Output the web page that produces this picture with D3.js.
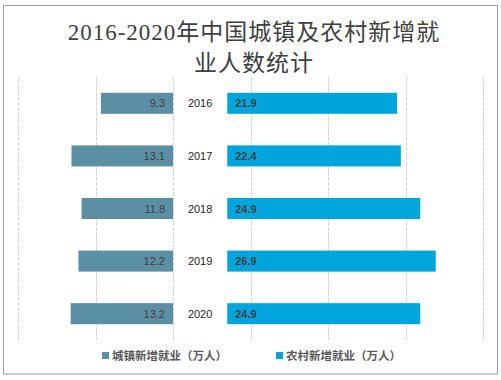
<!DOCTYPE html>
<html>
<head>
<meta charset="utf-8">
<script src="https://cdn.jsdelivr.net/npm/d3@7/dist/d3.min.js"></script>
<style>
  html, body { margin: 0; padding: 0; background: #fff; }
  svg { display: block; }
</style>
</head>
<body>
<svg id="chart" width="501" height="380"></svg>
<script>
// ---- data ----
const years = ["2016", "2017", "2018", "2019", "2020"];
const urbanValues = [9.3, 13.1, 11.8, 12.2, 13.2];
const ruralValues = [21.9, 22.4, 24.9, 26.9, 24.9];
const seriesNames = ["城镇新增就业（万人）", "农村新增就业（万人）"];
const titleLines = ["2016-2020年中国城镇及农村新增就", "业人数统计"];
const gridTicks = [-20, -10, 0, 10, 20, 30, 40];

// ---- layout ----
const W = 501, H = 380;
const colors = ["#5B8FA3", "#00A5DC"];
const rightOffset = 7; // gap (in value units) for year labels
const sans = "'Liberation Sans', 'Noto Sans CJK SC', sans-serif";
const serif = "'Liberation Serif', 'Noto Sans CJK SC', serif";

const svg = d3.select("#chart");

// border
svg.append("rect")
  .attr("x", 3.5).attr("y", 5.5).attr("width", 494).attr("height", 368.5)
  .attr("fill", "#fff").attr("stroke", "#a0a0a0").attr("stroke-width", 1);

// title
svg.append("g").selectAll("text").data(titleLines).join("text")
  .attr("x", 254).attr("y", (d, i) => 40 + i * 31)
  .attr("text-anchor", "middle")
  .attr("font-family", serif).attr("font-size", 23)
  .attr("letter-spacing", 1)
  .attr("fill", "#404040")
  .text(d => d);

const x = d3.scaleLinear().domain([-20, 40]).range([18, 483]);
const y = d3.scaleBand().domain(years).range([77, 340]).paddingInner(0.6).paddingOuter(0.3);

// gridlines
svg.append("g").selectAll("line").data(gridTicks).join("line")
  .attr("x1", d => Math.round(x(d)) + 0.5).attr("x2", d => Math.round(x(d)) + 0.5)
  .attr("y1", 77).attr("y2", 340)
  .attr("stroke", "#d9d3d6").attr("stroke-width", 1)
  .attr("stroke-dasharray", "4,1");

// urban bars (left)
svg.append("g").selectAll("rect").data(years).join("rect")
  .attr("x", (d, i) => x(-urbanValues[i]))
  .attr("y", d => y(d))
  .attr("width", (d, i) => x(0) - x(-urbanValues[i]))
  .attr("height", y.bandwidth())
  .attr("fill", colors[0]);

// rural bars (right)
svg.append("g").selectAll("rect").data(years).join("rect")
  .attr("x", x(rightOffset))
  .attr("y", d => y(d))
  .attr("width", (d, i) => x(rightOffset + ruralValues[i]) - x(rightOffset))
  .attr("height", y.bandwidth())
  .attr("fill", colors[1]);

// urban labels
svg.append("g").selectAll("text").data(years).join("text")
  .attr("x", x(0) - 8)
  .attr("y", d => y(d) + y.bandwidth() / 2 + 4)
  .attr("text-anchor", "end")
  .attr("font-family", sans).attr("font-size", 11)
  .attr("fill", "#404040")
  .text((d, i) => urbanValues[i].toFixed(1));

// rural labels
svg.append("g").selectAll("text").data(years).join("text")
  .attr("x", x(rightOffset) + 8)
  .attr("y", d => y(d) + y.bandwidth() / 2 + 4)
  .attr("font-family", sans).attr("font-size", 11).attr("font-weight", "bold")
  .attr("fill", "#404040")
  .text((d, i) => ruralValues[i].toFixed(1));

// year labels
svg.append("g").selectAll("text").data(years).join("text")
  .attr("x", (x(0) + x(rightOffset)) / 2)
  .attr("y", d => y(d) + y.bandwidth() / 2 + 4)
  .attr("text-anchor", "middle")
  .attr("font-family", sans).attr("font-size", 11)
  .attr("fill", "#262626")
  .text(d => d);

// legend
const legendX = [102, 276];
const lg = svg.append("g").selectAll("g").data(seriesNames).join("g")
  .attr("transform", (d, i) => `translate(${legendX[i]},352)`);
lg.append("rect").attr("width", 7).attr("height", 7).attr("fill", (d, i) => colors[i]);
lg.append("text").attr("x", 10).attr("y", 8)
  .attr("font-family", sans).attr("font-size", 11.5).attr("font-weight", "bold")
  .attr("fill", "#595959")
  .text(d => d);
</script>
</body>
</html>
